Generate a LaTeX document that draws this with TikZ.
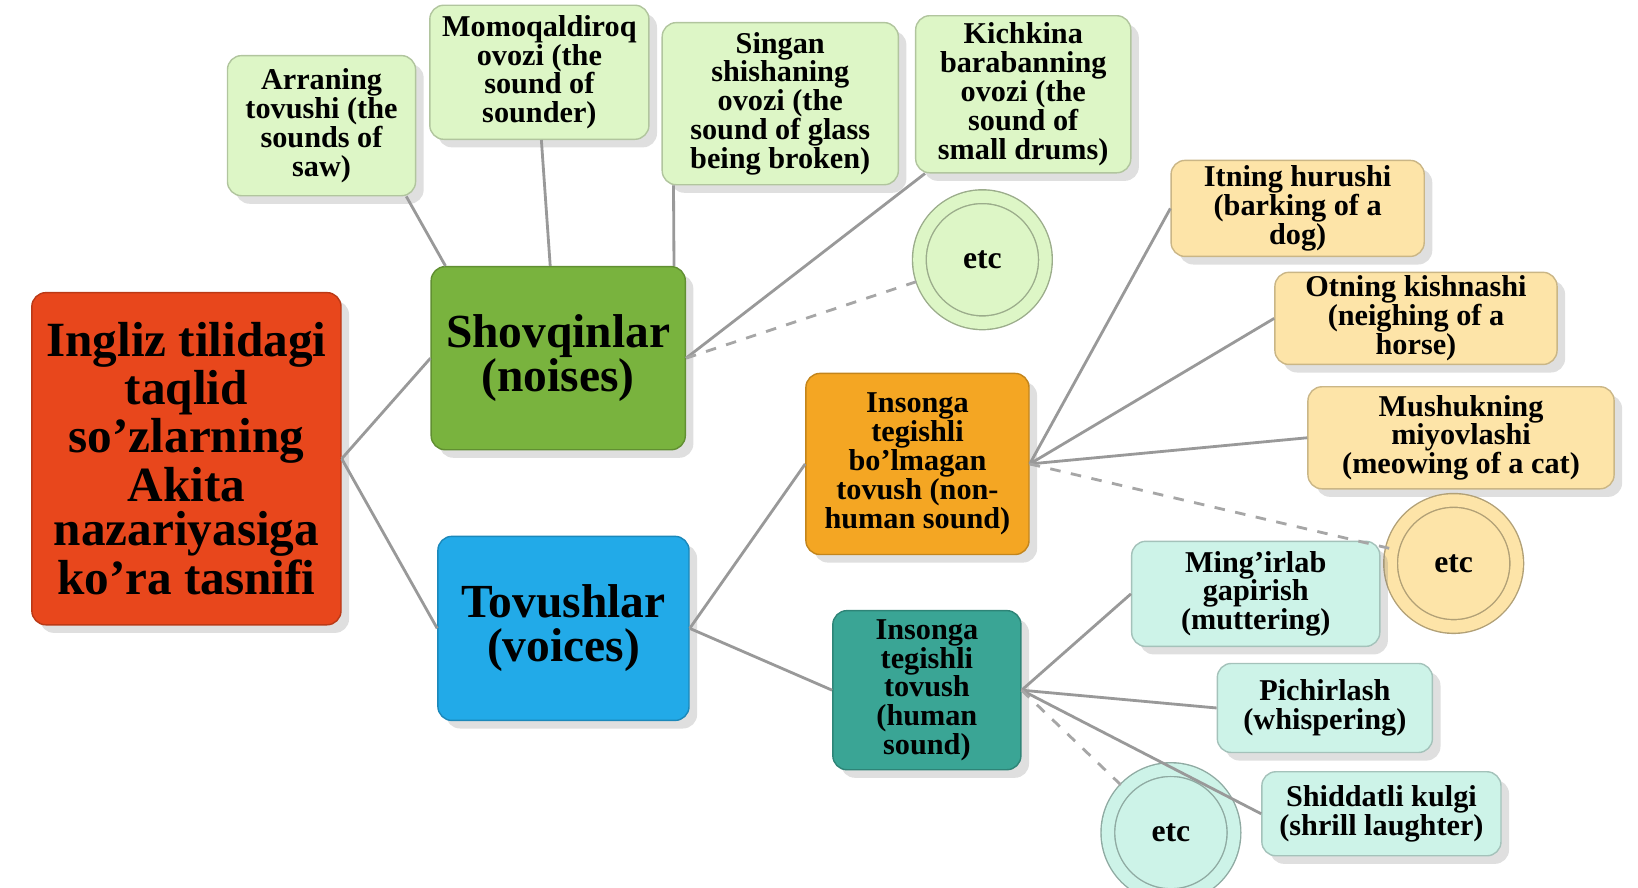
\documentclass[tikz,border=0pt]{standalone}
\usepackage{fontspec}
\setmainfont{Liberation Serif}
\usetikzlibrary{shadows}
\definecolor{rootc}{HTML}{E8471C}
\definecolor{shovc}{HTML}{79B33E}
\definecolor{tovc}{HTML}{22AAE8}
\definecolor{leafg}{HTML}{DDF6C6}
\definecolor{nonc}{HTML}{F4A623}
\definecolor{humc}{HTML}{3AA595}
\definecolor{leafo}{HTML}{FDE4A8}
\definecolor{leaft}{HTML}{CDF3E8}
\tikzset{box/.style={draw=#1!80!black,fill=#1,rounded corners=4pt,align=center,
      font=\bfseries\fontsize{8.6}{8.2}\selectfont,inner sep=1pt,drop shadow={opacity=0.25}},
    big/.style={box=#1,font=\bfseries\fontsize{13.5}{12.5}\selectfont},
    etcnode/.style={circle,draw=#1!70!black,fill=#1,minimum size=1.26cm,
      double=#1,double distance=3.5pt,font=\bfseries\fontsize{9}{9}\selectfont},
    link/.style={draw=gray!80,thick},
    dlink/.style={draw=gray!70,thick,dashed}}
\begin{document}
\begin{tikzpicture}[x=0.01047cm,y=-0.01047cm]
\useasboundingbox (0,0) rectangle (1564,847);

\node (root) at (178,438) [big=rootc,minimum width=3.09cm,minimum height=3.32cm,
  font=\bfseries\fontsize{14}{12.6}\selectfont] {Ingliz tilidagi\\taqlid\\so’zlarning\\Akita\\nazariyasiga\\ko’ra tasnifi};
\node (shov) at (533,342) [big=shovc,minimum width=2.54cm,minimum height=1.83cm] {Shovqinlar\\(noises)};
\node (tov) at (538,600) [big=tovc,minimum width=2.51cm,minimum height=1.84cm] {Tovushlar\\(voices)};

% noises
\node (arra) at (307,120) [box=leafg,minimum width=1.88cm,minimum height=1.4cm] {Arraning\\tovushi (the\\sounds of\\saw)};
\node (momo) at (515,69) [box=leafg,minimum width=2.19cm,minimum height=1.34cm] {Momoqaldiroq\\ovozi (the\\sound of\\sounder)};
\node (sing) at (745,99) [box=leafg,minimum width=2.36cm,minimum height=1.62cm] {Singan\\shishaning\\ovozi (the\\sound of glass\\being broken)};
\node (kich) at (977,90) [box=leafg,minimum width=2.15cm,minimum height=1.57cm] {Kichkina\\barabanning\\ovozi (the\\sound of\\small drums)};
\node (etcA) at (938,248) [etcnode=leafg] {etc};

% voices
\node (nonh) at (876,443) [box=nonc,minimum width=2.23cm,minimum height=1.81cm] {Insonga\\tegishli\\bo’lmagan\\tovush (non-\\human sound)};
\node (hum) at (885,659) [box=humc,minimum width=1.88cm,minimum height=1.59cm] {Insonga\\tegishli\\tovush\\(human\\sound)};

\node (itn) at (1239,199) [box=leafo,minimum width=2.53cm,minimum height=0.96cm] {Itning hurushi\\(barking of a\\dog)};
\node (otn) at (1352,304) [box=leafo,minimum width=2.82cm,minimum height=0.92cm] {Otning kishnashi\\(neighing of a\\horse)};
\node (mush) at (1395,418) [box=leafo,minimum width=3.06cm,minimum height=1.02cm] {Mushukning\\miyovlashi\\(meowing of a cat)};
\node (etcB) at (1388,538) [etcnode=leafo] {etc};

\node (ming) at (1199,567) [box=leaft,minimum width=2.48cm,minimum height=1.05cm] {Ming’irlab\\gapirish\\(muttering)};
\node (pich) at (1265,676) [box=leaft,minimum width=2.15cm,minimum height=0.89cm] {Pichirlash\\(whispering)};
\node (shid) at (1319,777) [box=leaft,minimum width=2.39cm,minimum height=0.84cm] {Shiddatli kulgi\\(shrill laughter)};
\node (etcC) at (1118,795) [etcnode=leaft] {etc};

\draw [link] (root.east) -- (shov.west);
\draw [link] (root.east) -- (tov.west);
\draw [link] ([xshift=0.15cm]shov.north west) -- ([xshift=-0.1cm]arra.south east);
\draw [link] ([xshift=-0.08cm]shov.north) -- ([xshift=0.02cm]momo.south);
\draw [link] ([xshift=-0.12cm]shov.north east) -- ([xshift=0.12cm]sing.south west);
\draw [link] (shov.east) -- ([xshift=0.1cm]kich.south west);
\draw [dlink] (shov.east) -- (etcA);
\draw [link] (tov.east) -- (nonh.west);
\draw [link] (tov.east) -- (hum.west);
\draw [link] (nonh.east) -- (itn.west);
\draw [link] (nonh.east) -- (otn.west);
\draw [link] (nonh.east) -- (mush.west);
\draw [dlink] (nonh.east) -- (etcB);
\draw [link] (hum.east) -- (ming.west);
\draw [link] (hum.east) -- (pich.west);
\draw [link] (hum.east) -- (shid.west);
\draw [dlink] (hum.east) -- (etcC);
\end{tikzpicture}
\end{document}
